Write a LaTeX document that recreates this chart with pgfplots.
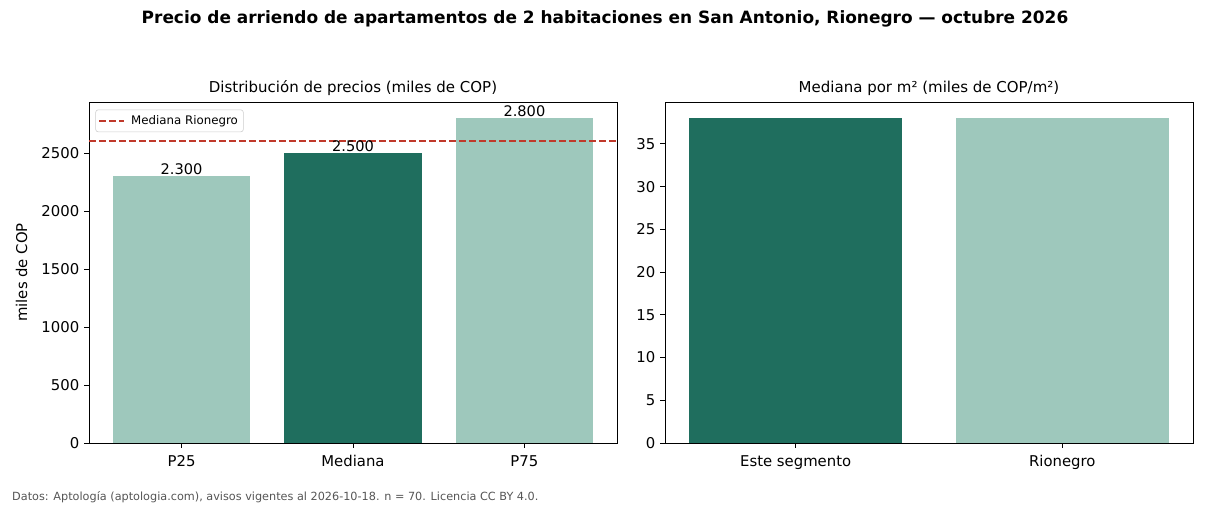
\documentclass[border=0pt]{standalone}
\usepackage{pgfplots}
\pgfplotsset{compat=1.18}
\usepackage{fontspec}
\setmainfont{DejaVu Sans}
\definecolor{darkg}{HTML}{1F6E5E}
\definecolor{lightg}{HTML}{9EC8BC}
\definecolor{redl}{HTML}{C0392B}
\definecolor{foot}{HTML}{555555}
\begin{document}
\begin{tikzpicture}[x=1pt,y=1pt]
\path[use as bounding box] (0,0) rectangle (871.2pt,364.32pt);
\pgfplotsset{
  common/.style={
    scale only axis, width=380.16pt, height=245.52pt,
    anchor=south west,
    ymin=0,
    xtick pos=bottom, ytick pos=left,
    tick align=outside, major tick length=3.5pt,
    tick style={black, line width=0.6pt},
    axis line style={line width=0.6pt},
    /pgf/number format/assume math mode=true,
    /pgf/number format/1000 sep={},
    ticklabel style={font=\fontsize{10.7}{12}\selectfont},
    xticklabel style={yshift=-2pt},
    title style={font=\fontsize{10.8}{12}\selectfont, at={(0.5,1)}, anchor=base, yshift=0.6pt},
  },
  barp/.style={ybar, bar width=0.8, bar shift=0pt, draw=none, fill=#1},
  lbl/.style={nodes near coords={\pgfmathprintnumber[1000 sep={.}]{\pgfplotspointmeta}},
    every node near coord/.append style={font=\fontsize{10.5}{12}\selectfont, black, yshift=-2.5pt}},
}
\begin{axis}[common, at={(64.08pt,45.36pt)},
  xmin=-0.54, xmax=2.54, ymax=2940,
  xtick={0,1,2}, xticklabels={P25,Mediana,P75},
  ytick={0,500,1000,1500,2000,2500},
  ylabel={miles de COP},
  every axis y label/.style={at={(rel axis cs:0,0.5)}, rotate=90, anchor=center, yshift=48.5pt, font=\fontsize{10.7}{12}\selectfont},
  title={Distribución de precios (miles de COP)},
  legend style={at={(0.012,0.978)}, anchor=north west, font=\fontsize{8.5}{10}\selectfont,
    draw=black!20, rounded corners=2pt, inner sep=2pt, row sep=0pt,
    /tikz/every odd column/.append style={column sep=2.5pt}},
  legend cell align=left,
]
\addplot[barp=lightg, forget plot, lbl] coordinates {(0,2300)};
\addplot[barp=darkg, forget plot, lbl] coordinates {(1,2500)};
\addplot[barp=lightg, forget plot, lbl] coordinates {(2,2800)};
\addplot[redl, line width=1.5pt, dash pattern=on 5pt off 2.2pt, mark=none,
  legend image code/.code={\draw[redl, line width=1.1pt, dash pattern=on 5pt off 2.2pt] (1.5pt,0pt) -- (19.5pt,0pt);}]
  table[row sep=\\] {x y\\ -0.54 2600\\ 2.54 2600\\};
\addlegendentry{Mediana Rionegro}
\end{axis}
\begin{axis}[common, at={(478.8pt,45.36pt)},
  xmin=-0.49, xmax=1.49, ymax=39.9,
  xtick={0,1}, xticklabels={Este segmento,Rionegro},
  ytick={0,5,10,15,20,25,30,35},
  title={Mediana por m² (miles de COP/m²)},
]
\addplot[barp=darkg] coordinates {(0,38)};
\addplot[barp=lightg] coordinates {(1,38)};
\end{axis}
\node[anchor=base, font=\bfseries\fontsize{12.2}{14}\selectfont] at (435.6pt,347.4pt)
  {Precio de arriendo de apartamentos de 2 habitaciones en San Antonio, Rionegro — octubre 2026};
\node[anchor=base west, inner sep=0pt, text=foot, font=\fontsize{8.1}{9}\selectfont] at (8.6pt,3.6pt)
  {Datos: Aptología (aptologia.com), avisos vigentes al 2026-10-18. n = 70. Licencia CC BY 4.0.};
\end{tikzpicture}
\end{document}
